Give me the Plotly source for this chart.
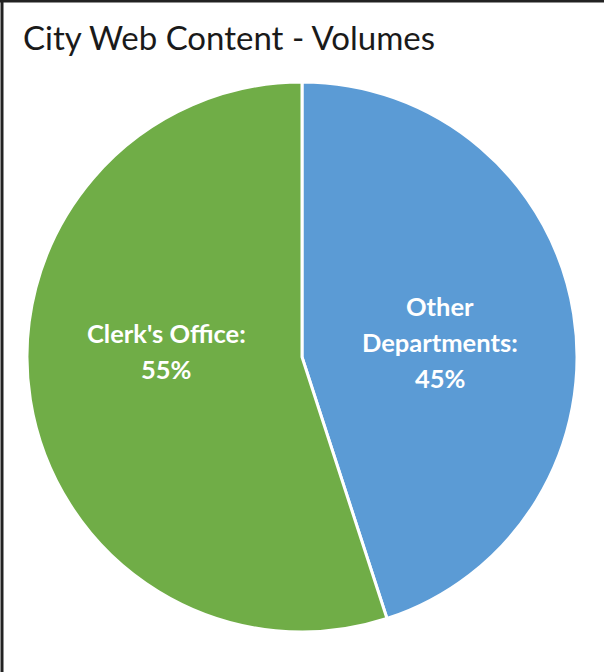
import plotly.graph_objects as go

# Share of city web content by owner
labels = ["Other Departments", "Clerk's Office"]
values = [45, 55]
colors = ["#5B9BD5", "#70AD47"]
title_text = "City Web Content - Volumes"

FONT = "Lato"
W, H = 604, 672

fig = go.Figure(
    go.Pie(
        labels=labels,
        values=values,
        sort=False,
        direction="clockwise",
        rotation=0,
        marker=dict(colors=colors, line=dict(color="white", width=3)),
        textinfo="none",
        hoverinfo="label+percent",
        showlegend=False,
        domain=dict(x=[27 / W, 577 / W], y=[(H - 632) / H, (H - 82) / H]),
    )
)

# Slice labels, one line per annotation to control leading
label_lines = {
    "Other Departments": (["Other", "Departments:"], 440, 306),
    "Clerk's Office": (["Clerk's Office:"], 166, 333),
}
total = sum(values)
annotations = []
for lab, val in zip(labels, values):
    lines, cx, y0 = label_lines[lab]
    lines = lines + [f"{round(100 * val / total)}%"]
    for i, line in enumerate(lines):
        annotations.append(
            dict(
                text=f"<b>{line}</b>",
                x=cx / W,
                y=1 - (y0 + 36 * i) / H,
                xref="paper",
                yref="paper",
                showarrow=False,
                xanchor="center",
                yanchor="middle",
                font=dict(family=FONT, size=25.5, color="white"),
            )
        )

annotations.append(
    dict(
        text=title_text,
        x=21 / W,
        y=1 - 37 / H,
        xref="paper",
        yref="paper",
        showarrow=False,
        xanchor="left",
        yanchor="middle",
        font=dict(family=FONT, size=33, color="#1a1a1a"),
    )
)

fig.update_layout(
    width=W,
    height=H,
    margin=dict(l=0, r=0, t=0, b=0),
    paper_bgcolor="white",
    plot_bgcolor="white",
    annotations=annotations,
    shapes=[
        dict(type="line", xref="paper", yref="paper",
             x0=2 / W, x1=2 / W, y0=0, y1=1, line=dict(color="#222222", width=3)),
        dict(type="line", xref="paper", yref="paper",
             x0=0, x1=1, y0=1 - 1 / H, y1=1 - 1 / H, line=dict(color="#222222", width=3)),
    ],
)

fig.write_html("out.html")
